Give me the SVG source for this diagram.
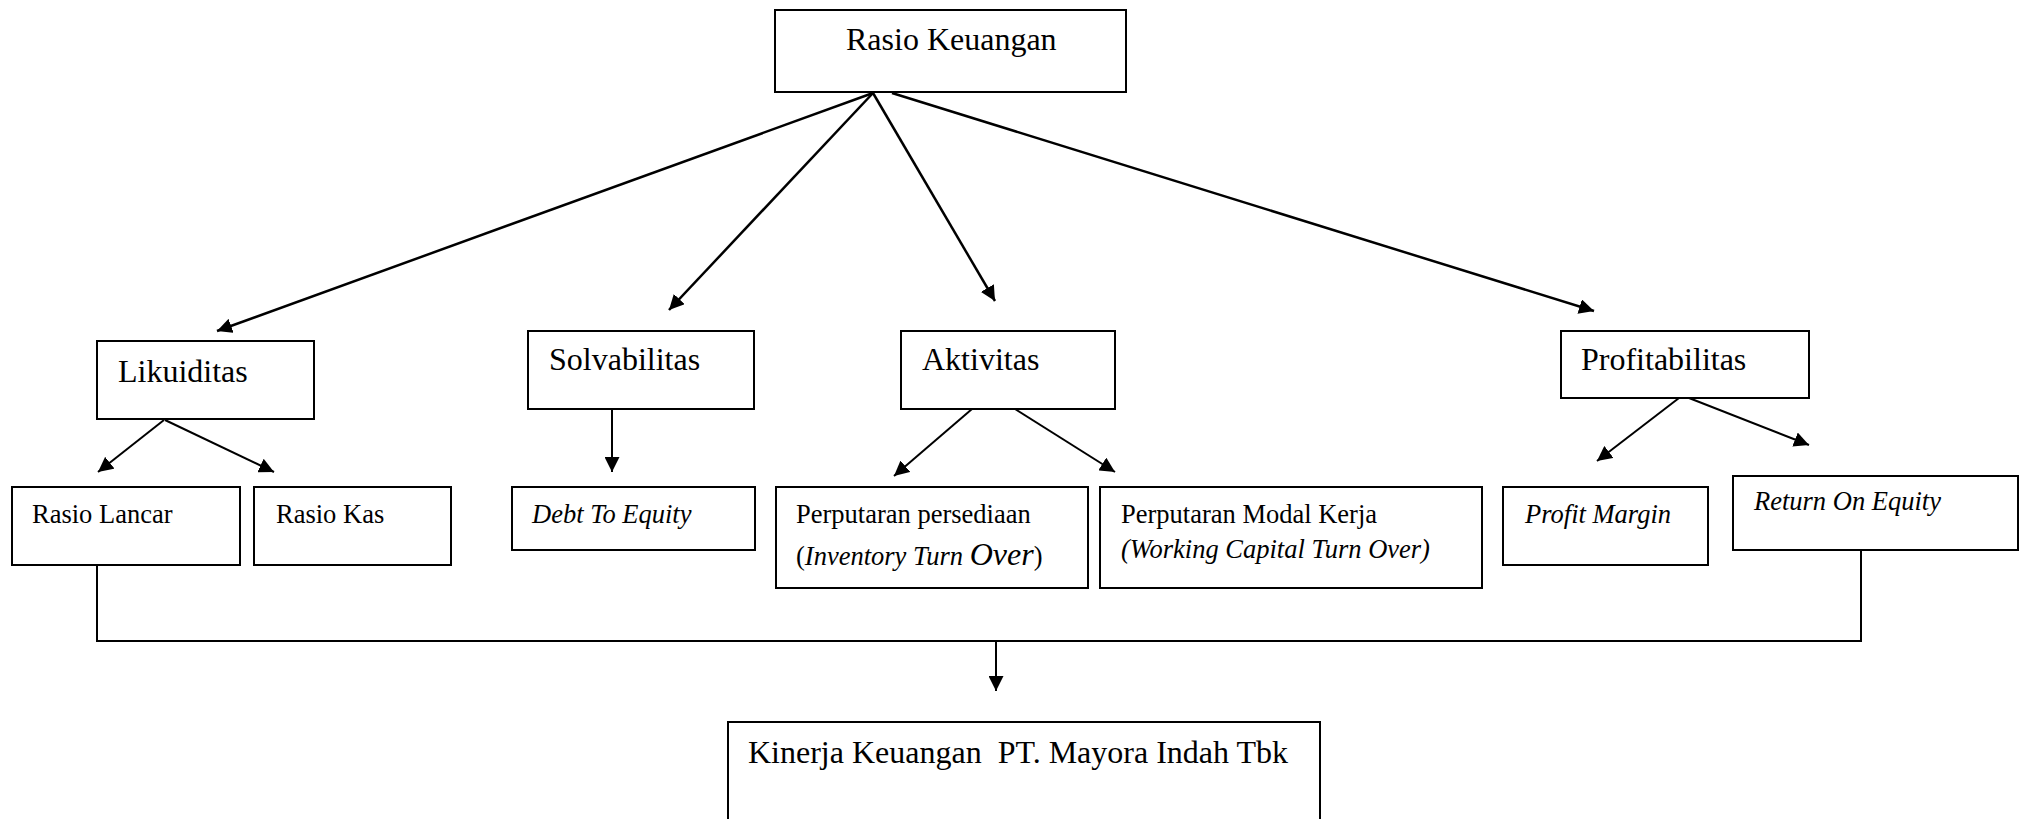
<svg xmlns="http://www.w3.org/2000/svg" width="2023" height="819" viewBox="0 0 2023 819">
<defs>
<marker id="ah" viewBox="0 0 10 10" refX="10" refY="5" markerWidth="15" markerHeight="15" markerUnits="userSpaceOnUse" orient="auto">
<path d="M0,0 L10,5 L0,10 z" fill="#000"/>
</marker>
<style>
.box{fill:#fff;stroke:#000;stroke-width:2}
.t{font-family:"Liberation Serif","Times New Roman",serif;fill:#000}
.big{font-size:32px}
.sm{font-size:26.5px}
.it{font-style:italic}
.c{fill:none;stroke:#000;stroke-width:2}
.ct{stroke-width:2.5}
</style>
</defs>
<rect width="2023" height="819" fill="#fff"/>
<g id="connectors">
<line class="c ct" x1="873" y1="93" x2="217" y2="331" marker-end="url(#ah)"/>
<line class="c ct" x1="873" y1="93" x2="669" y2="310" marker-end="url(#ah)"/>
<line class="c ct" x1="873" y1="93" x2="995" y2="301" marker-end="url(#ah)"/>
<line class="c ct" x1="892" y1="93" x2="1594" y2="311" marker-end="url(#ah)"/>
<line class="c" x1="164" y1="420" x2="98" y2="472" marker-end="url(#ah)"/>
<line class="c" x1="165" y1="420" x2="274" y2="472" marker-end="url(#ah)"/>
<line class="c" x1="612" y1="409" x2="612" y2="472" marker-end="url(#ah)"/>
<line class="c" x1="972" y1="409" x2="894" y2="476" marker-end="url(#ah)"/>
<line class="c" x1="1015" y1="409" x2="1115" y2="472" marker-end="url(#ah)"/>
<line class="c" x1="1679" y1="398" x2="1597" y2="461" marker-end="url(#ah)"/>
<line class="c" x1="1689" y1="398" x2="1809" y2="445" marker-end="url(#ah)"/>
<polyline class="c" points="97,565 97,641 1861,641 1861,550"/>
<line class="c" x1="996" y1="641" x2="996" y2="691" marker-end="url(#ah)"/>
</g>
<g id="rasio-keuangan">
<rect class="box" x="775" y="10" width="351" height="82"/>
<text class="t big" x="846" y="50">Rasio Keuangan</text>
</g>
<g id="likuiditas">
<rect class="box" x="97" y="341" width="217" height="78"/>
<text class="t big" x="118" y="382">Likuiditas</text>
</g>
<g id="solvabilitas">
<rect class="box" x="528" y="331" width="226" height="78"/>
<text class="t big" x="549" y="370">Solvabilitas</text>
</g>
<g id="aktivitas">
<rect class="box" x="901" y="331" width="214" height="78"/>
<text class="t big" x="922" y="370">Aktivitas</text>
</g>
<g id="profitabilitas">
<rect class="box" x="1561" y="331" width="248" height="67"/>
<text class="t big" x="1581" y="370">Profitabilitas</text>
</g>
<g id="rasio-lancar">
<rect class="box" x="12" y="487" width="228" height="78"/>
<text class="t sm" x="32" y="523">Rasio Lancar</text>
</g>
<g id="rasio-kas">
<rect class="box" x="254" y="487" width="197" height="78"/>
<text class="t sm" x="276" y="523">Rasio Kas</text>
</g>
<g id="debt-to-equity">
<rect class="box" x="512" y="487" width="243" height="63"/>
<text class="t sm it" x="532" y="523">Debt To Equity</text>
</g>
<g id="perputaran-persediaan">
<rect class="box" x="776" y="487" width="312" height="101"/>
<text class="t sm" x="796" y="523">Perputaran persediaan</text>
<text class="t sm" x="796" y="565">(<tspan class="it">Inventory Turn </tspan><tspan class="it" font-size="32px">Over</tspan>)</text>
</g>
<g id="perputaran-modal-kerja">
<rect class="box" x="1100" y="487" width="382" height="101"/>
<text class="t sm" x="1121" y="523">Perputaran Modal Kerja</text>
<text class="t sm it" x="1121" y="558">(Working Capital Turn Over)</text>
</g>
<g id="profit-margin">
<rect class="box" x="1503" y="487" width="205" height="78"/>
<text class="t sm it" x="1525" y="523">Profit Margin</text>
</g>
<g id="return-on-equity">
<rect class="box" x="1733" y="476" width="285" height="74"/>
<text class="t sm it" x="1754" y="510">Return On Equity</text>
</g>
<g id="kinerja-keuangan">
<rect class="box" x="728" y="722" width="592" height="110"/>
<text class="t big" x="748" y="763" xml:space="preserve">Kinerja Keuangan  PT. Mayora Indah Tbk</text>
</g>
</svg>
